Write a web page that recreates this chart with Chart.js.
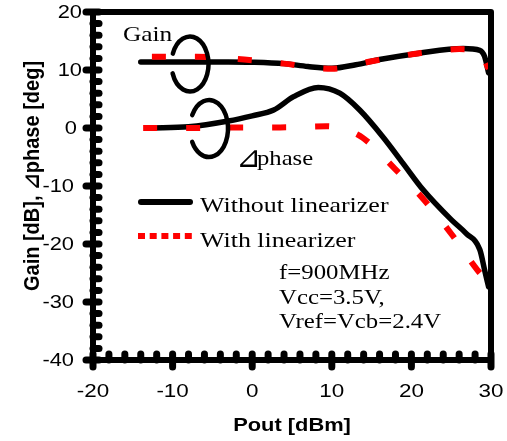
<!DOCTYPE html>
<html>
<head>
<meta charset="utf-8">
<script src="https://cdn.jsdelivr.net/npm/chart.js@4"></script>
<style>
  html, body { margin: 0; padding: 0; background: #fff; }
  #wrap { width: 507px; height: 441px; }
</style>
</head>
<body>
<div id="wrap"><canvas id="chart" width="507" height="441"></canvas></div>
<script>
// ────────────────────────────────────────────────
// Data
// ────────────────────────────────────────────────
const xTickLabels = [-20, -10, 0, 10, 20, 30];
const yTickLabels = [20, 10, 0, -10, -20, -30, -40];

// Gain, without linearizer
const gainWithoutPout = [-14, -8, -3, 0, 4, 7, 10, 13, 16, 21, 26.5, 28.6, 29.2, 29.7];
const gainWithoutDb   = [11.4, 11.4, 11.4, 11.35, 11.1, 10.6, 10.3, 10.9, 11.8, 12.9, 13.7, 13.4, 12.3, 9.5];

// Gain, with linearizer
const gainWithPout = [-12.6, -7, -1, 4, 10, 15, 21, 26, 28.5, 29.7];
const gainWithDb   = [12.3, 12.3, 11.8, 11.1, 10.2, 11.5, 12.9, 13.6, 13.3, 10.2];

// Delta phase, without linearizer
const phaseWithoutPout = [-12.8, -8, -3, 0, 2.7, 5.2, 8.3, 11, 13.5, 16.4, 18.9, 21.5, 25, 26.9, 28.6, 29.2, 29.7];
const phaseWithoutDeg  = [0, 0.2, 1.2, 2.1, 3.1, 5.4, 7.0, 6.0, 3.1, -1.5, -6, -10.7, -15.8, -18.2, -21, -24.5, -27.4];

// Delta phase, with linearizer
const phaseWithPout = [-13.7, -7, -2, 3.5, 9.3, 11.5, 13.9, 17.9, 21.6, 25.1, 28.3, 29.6];
const phaseWithDeg  = [0, 0, 0.1, 0.1, 0.3, -0.2, -1.7, -7.0, -12.4, -18.4, -24.5, -26.5];

const conditionLines = ['f=900MHz', 'Vcc=3.5V,', 'Vref=Vcb=2.4V'];

function toPoints(xs, ys) {
    return xs.map((x, i) => ({ x: x, y: ys[i] }));
}

// ────────────────────────────────────────────────
// Text helper (the original figure is a little wide)
// ────────────────────────────────────────────────
function drawText(ctx, text, x, y, o) {
    ctx.save();
    ctx.font = o.font;
    ctx.fillStyle = '#000';
    ctx.textAlign = o.align || 'left';
    ctx.textBaseline = o.baseline || 'alphabetic';
    ctx.translate(x, y);
    if (o.rotate) ctx.rotate(o.rotate);
    ctx.scale(o.sx || 1, o.sy || 1);
    ctx.fillText(text, 0, 0);
    ctx.restore();
}

const SERIF = "'Liberation Serif', 'DejaVu Serif', serif";
const SANS  = "'Liberation Sans', Arial, 'DejaVu Sans', sans-serif";

// ────────────────────────────────────────────────
// Frame, ticks, labels and annotations
// ────────────────────────────────────────────────
const paperDecor = {
    id: 'paperDecor',
    afterDraw(chart) {
        const ctx = chart.ctx;
        const { left, right, top, bottom } = chart.chartArea;
        const xs = chart.scales.x;
        const ys = chart.scales.y;

        ctx.save();
        ctx.strokeStyle = '#000';

        // box
        ctx.lineWidth = 6;
        ctx.lineJoin = 'round';
        ctx.strokeRect(left, top, right - left, bottom - top);

        // ticks: majors cross the axis, minors are dots on the inside
        ctx.lineCap = 'round';
        ctx.lineWidth = 7;
        for (let v = -40; v <= 20; v += 2) {
            const py = ys.getPixelForValue(v);
            ctx.beginPath();
            if (v % 10 === 0) { ctx.moveTo(left - 7, py); ctx.lineTo(left + 6, py); }
            else { ctx.moveTo(left, py); ctx.lineTo(left + 6, py); }
            ctx.stroke();
        }
        for (let v = -20; v <= 30; v += 2) {
            const px = xs.getPixelForValue(v);
            ctx.beginPath();
            if (v % 10 === 0) { ctx.moveTo(px, bottom + 7); ctx.lineTo(px, bottom - 6); }
            else { ctx.moveTo(px, bottom); ctx.lineTo(px, bottom - 6); }
            ctx.stroke();
        }

        // tick labels
        yTickLabels.forEach(v => {
            const rx = v > 0 ? 82 : (v === 0 ? 77 : 74);
            drawText(ctx, String(v), rx, ys.getPixelForValue(v) + 1,
                { font: '19px ' + SANS, align: 'right', baseline: 'middle', sx: 1.15 });
        });
        xTickLabels.forEach(v => {
            drawText(ctx, String(v), xs.getPixelForValue(v), 392,
                { font: '19px ' + SANS, align: 'center', baseline: 'middle', sx: 1.18 });
        });

        // axis titles
        drawText(ctx, 'Pout [dBm]', (left + right) / 2, 431,
            { font: 'bold 19px ' + SANS, align: 'center', sx: 1.15 });
        drawText(ctx, 'Gain [dB], ⊿phase [deg]', 39, 176,
            { font: 'bold 20px ' + SANS, align: 'center', rotate: -Math.PI / 2, sy: 1.08 });

        // curve annotations
        drawText(ctx, 'Gain', 123, 41, { font: '22px ' + SERIF, sx: 1.15 });
        drawText(ctx, '⊿', 236, 167, { font: '30px ' + SANS });
        drawText(ctx, 'phase', 257, 165, { font: '22px ' + SERIF, sx: 1.12 });

        ctx.lineWidth = 4.5;
        ctx.lineCap = 'round';
        const deg = Math.PI / 180;
        ctx.beginPath();
        ctx.ellipse(190, 64, 18.5, 27.5, 0, 202 * deg, 160 * deg);
        ctx.stroke();
        ctx.beginPath();
        ctx.ellipse(209, 128.5, 19, 28.5, 0, 208 * deg, 152 * deg);
        ctx.stroke();

        // legend
        const sets = chart.data.datasets;
        const without = sets.find(d => d.label === 'Without linearizer');
        const withLin = sets.find(d => d.label === 'With linearizer');

        ctx.lineWidth = 6;
        ctx.lineCap = 'round';
        ctx.strokeStyle = without.borderColor;
        ctx.beginPath(); ctx.moveTo(141, 202); ctx.lineTo(190, 202); ctx.stroke();

        ctx.lineCap = 'butt';
        ctx.strokeStyle = withLin.borderColor;
        ctx.setLineDash([7, 4.7]);
        ctx.beginPath(); ctx.moveTo(138, 236); ctx.lineTo(192, 236); ctx.stroke();
        ctx.setLineDash([]);

        drawText(ctx, 'Without linearizer', 200, 212, { font: '22px ' + SERIF, sx: 1.18 });
        drawText(ctx, 'With linearizer', 200, 247, { font: '22px ' + SERIF, sx: 1.18 });

        // operating conditions
        conditionLines.forEach((t, i) => {
            drawText(ctx, t, 279, 279 + i * 24.5, { font: '20px ' + SERIF, sx: 1.24 });
        });

        ctx.restore();
    }
};

// ────────────────────────────────────────────────
// Chart
// ────────────────────────────────────────────────
const blackLine = {
    borderColor: '#000000',
    borderWidth: 5.5,
    borderCapStyle: 'round',
    pointRadius: 0,
    cubicInterpolationMode: 'monotone',
    order: 2
};
const redLine = {
    borderColor: '#ff0000',
    borderWidth: 6,
    borderDash: [14, 29],
    borderCapStyle: 'butt',
    pointRadius: 0,
    cubicInterpolationMode: 'monotone',
    order: 1
};

new Chart(document.getElementById('chart'), {
    type: 'line',
    data: {
        datasets: [
            { ...blackLine, label: 'Without linearizer', data: toPoints(gainWithoutPout, gainWithoutDb) },
            { ...blackLine, label: 'Without (phase)', data: toPoints(phaseWithoutPout, phaseWithoutDeg) },
            { ...redLine, label: 'With linearizer', data: toPoints(gainWithPout, gainWithDb) },
            { ...redLine, label: 'With (phase)', data: toPoints(phaseWithPout, phaseWithDeg) }
        ]
    },
    options: {
        responsive: false,
        animation: false,
        layout: { padding: { left: 0, top: 12, right: 16, bottom: 0 } },
        plugins: {
            legend: { display: false },
            tooltip: { enabled: false }
        },
        scales: {
            x: {
                type: 'linear',
                min: -20,
                max: 30,
                grid: { display: false },
                border: { display: false },
                ticks: { display: false, stepSize: 10 },
                afterFit: scale => { scale.height = 81; }
            },
            y: {
                min: -40,
                max: 20,
                grid: { display: false },
                border: { display: false },
                ticks: { display: false, stepSize: 10 },
                afterFit: scale => { scale.width = 93; }
            }
        }
    },
    plugins: [paperDecor]
});
</script>
</body>
</html>
